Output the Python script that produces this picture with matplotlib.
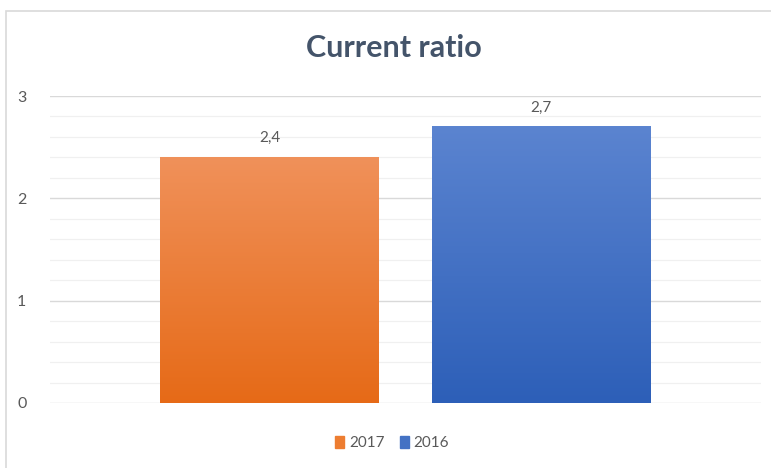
import matplotlib
matplotlib.use("Agg")
import matplotlib.pyplot as plt
import numpy as np
from matplotlib.colors import LinearSegmentedColormap
from matplotlib.patches import Rectangle

plt.rcParams['font.family'] = ['Lato', 'DejaVu Sans']

title = "Current ratio"
series = ["2017", "2016"]
values = [2.4, 2.7]
labels = ["2,4", "2,7"]
yticks = [0, 1, 2, 3]
top_colors = ["#F0915A", "#5B84D0"]
bottom_colors = ["#E66A17", "#2D5FB8"]
legend_colors = ["#ED7D31", "#4472C4"]

W, H = 771, 468
fig = plt.figure(figsize=(W / 100, H / 100), dpi=100)
fig.patch.set_facecolor("white")

# outer chart border (partially cropped)
fig.add_artist(Rectangle((6 / W, -0.1), 1.2, (H - 11) / H + 0.1, transform=fig.transFigure,
                         fill=False, edgecolor="#D9D9D9", linewidth=1.2))

ax = fig.add_axes([50 / W, (H - 403) / H, (761 - 50) / W, (403 - 96) / H])
ax.set_xlim(-0.5, 0.5)
ax.set_ylim(0, 3)

# gridlines
for v in np.arange(0, 3.01, 0.2):
    major = abs(v - round(v)) < 1e-6
    ax.axhline(v, color="#D9D9D9" if major else "#F0F0F0", linewidth=1.0 if major else 0.9, zorder=0)

width = 0.308
gap = 0.074
xs = [-(width + gap) / 2, (width + gap) / 2]
bars = ax.bar(xs, values, width=width, color="none", zorder=2)
for b, c0, c1, lab in zip(bars, top_colors, bottom_colors, labels):
    x0, w, h = b.get_x(), b.get_width(), b.get_height()
    cmap = LinearSegmentedColormap.from_list("g", [c1, c0])
    grad = np.linspace(0, 1, 256).reshape(-1, 1)
    ax.imshow(grad, cmap=cmap, aspect="auto", extent=(x0, x0 + w, 0, h), origin="lower", zorder=2)
    ax.text(x0 + w / 2, h + 0.12, lab, ha="center", va="bottom", fontsize=11, color="#595959")

ax.set_xlim(-0.5, 0.5)
ax.set_ylim(0, 3)
for s in ax.spines.values():
    s.set_visible(False)
ax.set_xticks([])
ax.set_yticks(yticks)
ax.set_yticklabels([str(t) for t in yticks])
ax.tick_params(axis="y", length=0, pad=17, labelsize=11.5, labelcolor="#595959")

fig.text(394 / W, 1 - 48 / H, title, ha="center", va="center", fontsize=22, fontweight="bold", color="#44546A")

handles = [Rectangle((0, 0), 1, 1, color=c) for c in legend_colors]
fig.legend(handles, series, loc="center", bbox_to_anchor=(392 / W, 1 - 443 / H), ncol=2, frameon=False,
           fontsize=11, handlelength=0.6, handleheight=0.9, handletextpad=0.3, columnspacing=1.0,
           labelcolor="#595959")

fig.savefig("out.png", dpi=100)
